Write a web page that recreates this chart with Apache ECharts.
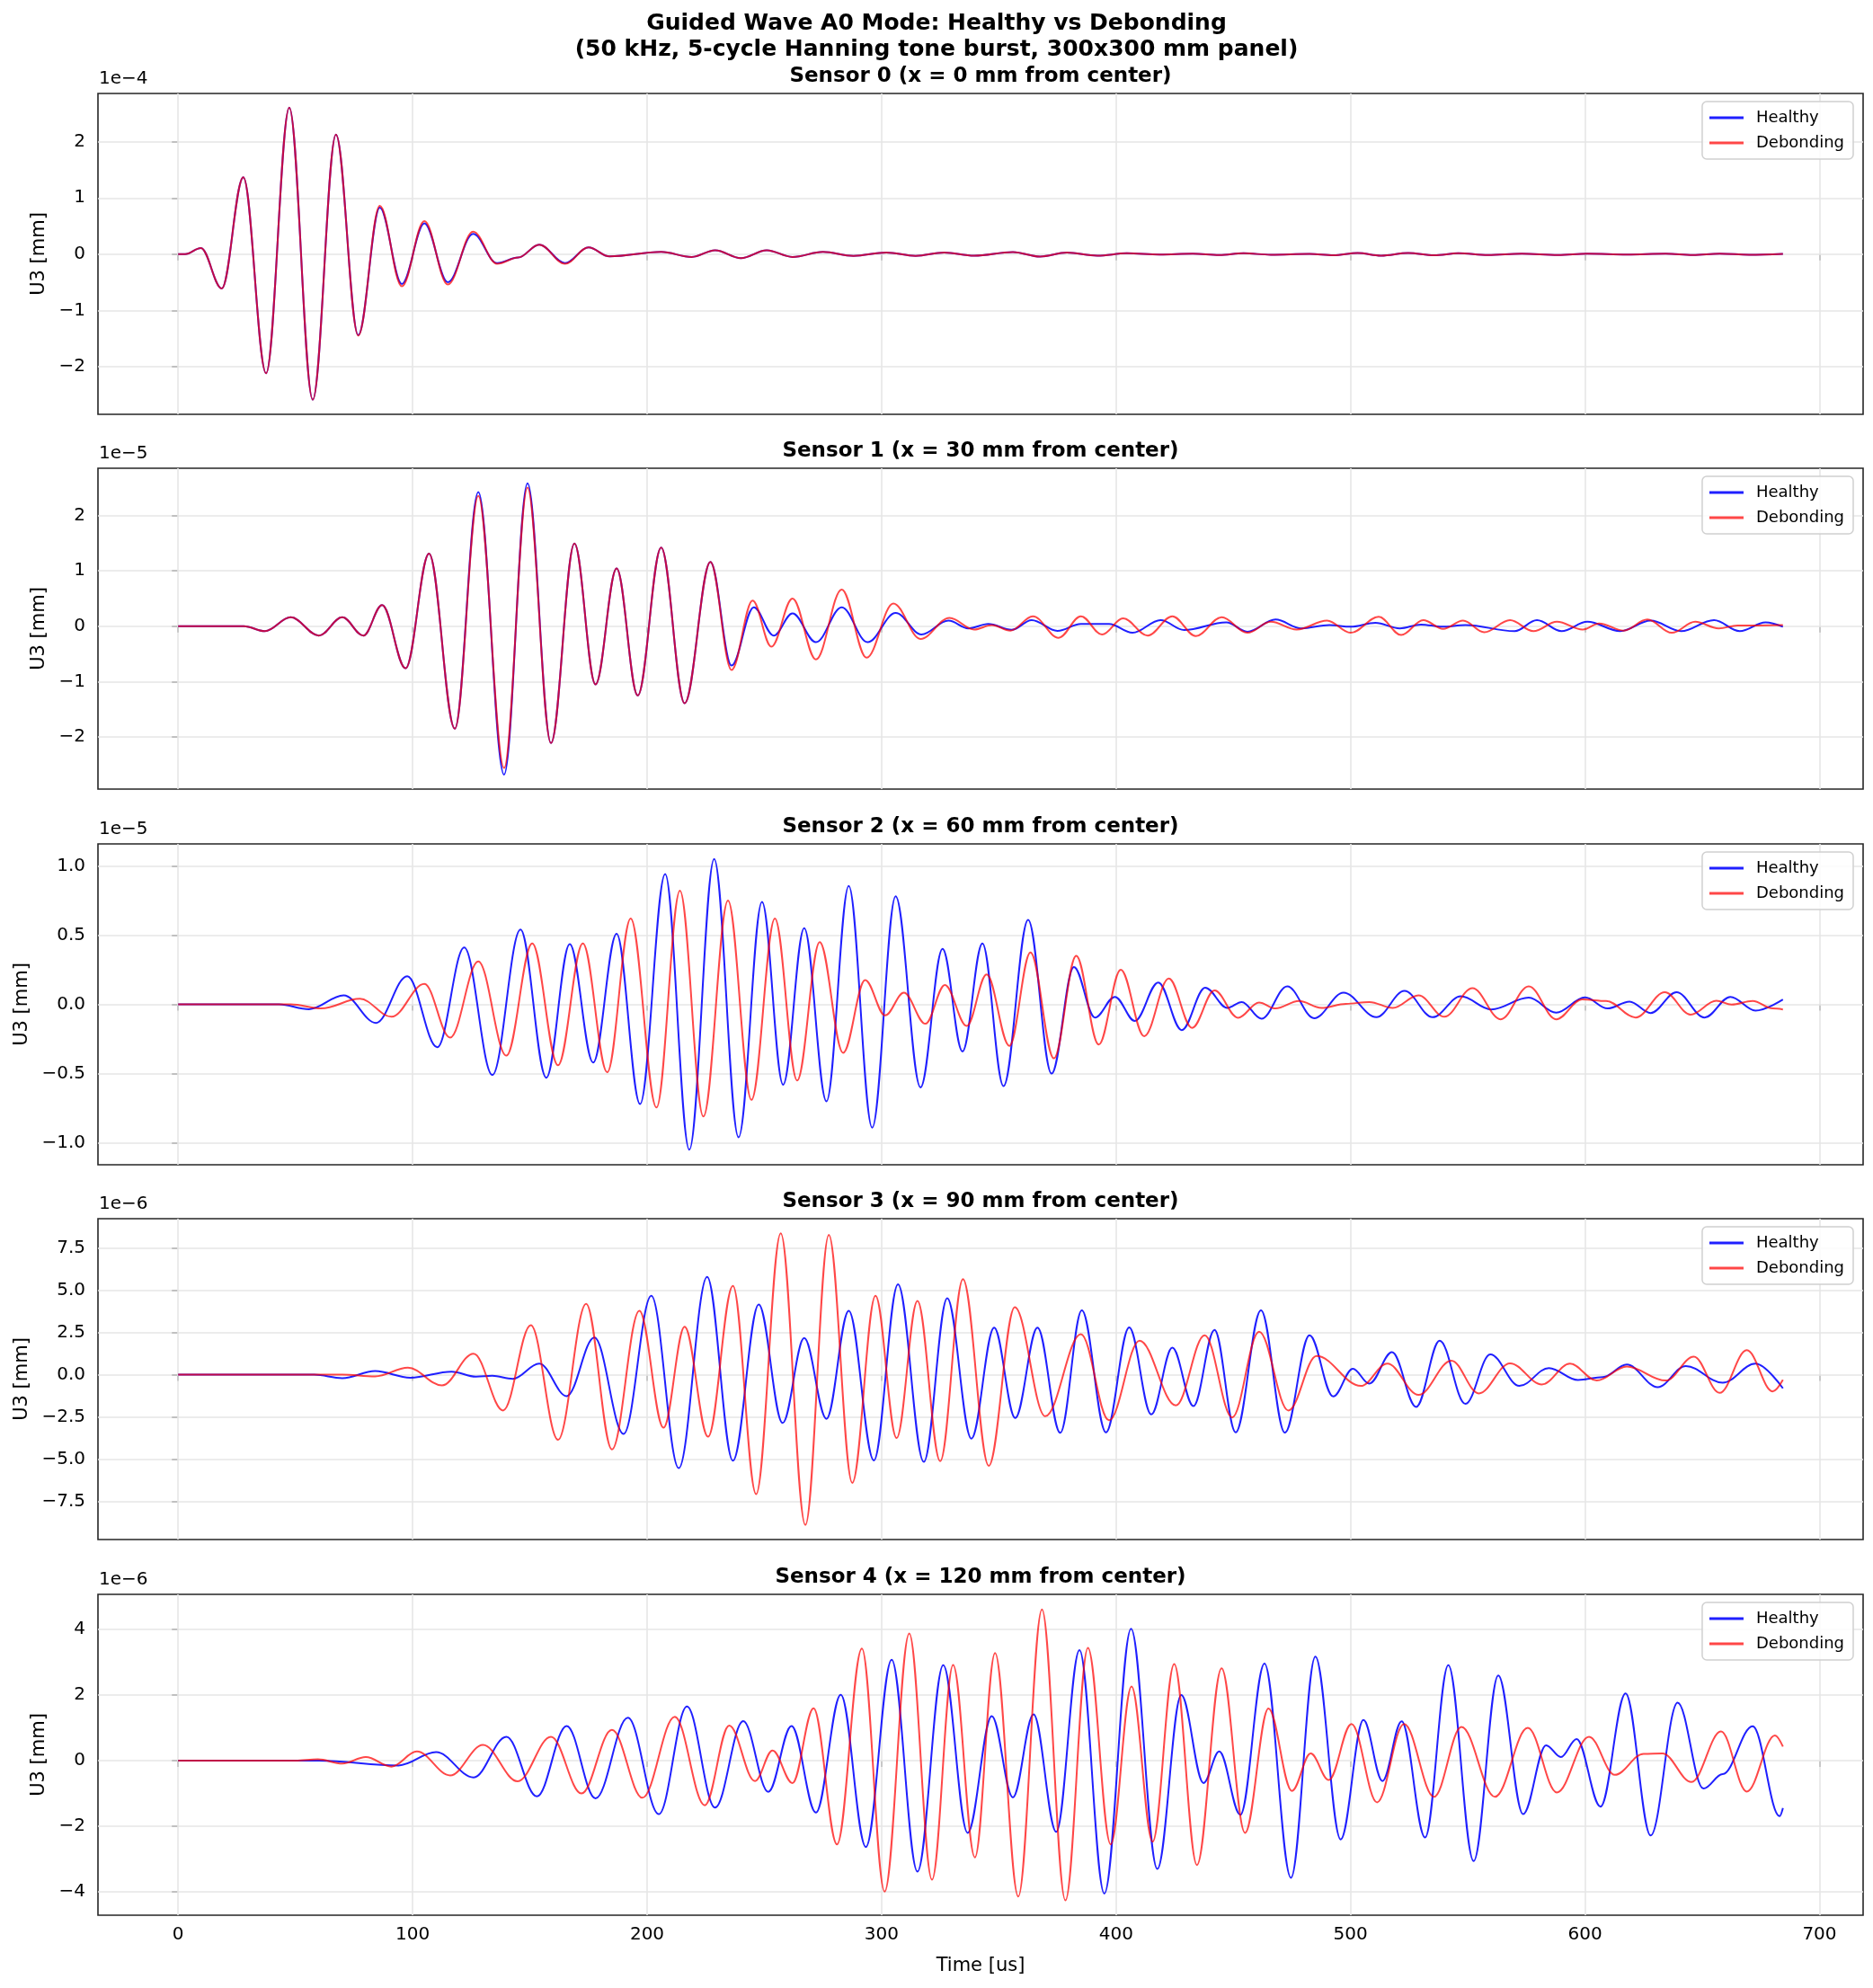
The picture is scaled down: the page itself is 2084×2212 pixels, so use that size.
<!DOCTYPE html>
<html>
<head>
<meta charset="utf-8">
<title>Guided Wave A0 Mode</title>
<script src="https://cdn.jsdelivr.net/npm/echarts@6/dist/echarts.min.js"></script>
<style>
  html, body { margin: 0; padding: 0; background: #fff; }
  #main { width: 2084px; height: 2212px; }
</style>
</head>
<body>
<div id="main"></div>
<script>
// time axis ticks [us]
var xTicks = [0, 100, 200, 300, 400, 500, 600, 700];

var panelTitles = [
    'Sensor 0 (x = 0 mm from center)',
    'Sensor 1 (x = 30 mm from center)',
    'Sensor 2 (x = 60 mm from center)',
    'Sensor 3 (x = 90 mm from center)',
    'Sensor 4 (x = 120 mm from center)'
];
var offsetLabels = ['1e\u22124', '1e\u22125', '1e\u22125', '1e\u22126', '1e\u22126'];

// y ranges / ticks (in units of the offset label)
var yMin = [-2.85, -2.94, -1.158, -9.75, -4.71];
var yMax = [2.86, 2.85, 1.158, 9.22, 5.07];
var yStep = [1, 1, 0.5, 2.5, 2];
var yTicks = [
    [-2, -1, 0, 1, 2],
    [-2, -1, 0, 1, 2],
    [-1, -0.5, 0, 0.5, 1],
    [-7.5, -5, -2.5, 0, 2.5, 5, 7.5],
    [-4, -2, 0, 2, 4]
];
var yDecimals = [0, 0, 1, 1, 0];

// peaks / troughs: [time us, U3]
var s0Healthy = [[0,0],[3,0],[9.7,0.11],[18.6,-0.61],[27.8,1.37],[37.5,-2.12],[47.4,2.61],[57.4,-2.59],[67.3,2.13],[76.8,-1.44],[86,0.83],[95.4,-0.53],[105,0.55],[115,-0.50],[125.8,0.36],[136,-0.16],[145,-0.06],[154,0.17],[165,-0.16],[175,0.12],[184,-0.04],[206,0.04],[219,-0.05],[229,0.07],[240,-0.07],[251,0.07],[262,-0.05],[275,0.04],[288,-0.03],[302,0.03],[314.5,-0.03],[326.7,0.03],[339.5,-0.027],[356,0.037],[367.6,-0.043],[379,0.027],[392,-0.027],[404.6,0.016],[418.6,-0.005],[432.7,0.01],[444,-0.016],[454.4,0.016],[466,-0.01],[482.5,0.005],[492.7,-0.02],[503,0.02],[513,-0.027],[524.6,0.02],[535.6,-0.02],[546,0.016],[558.6,-0.016],[573,0.01],[588.5,-0.016],[601,0.01],[618,-0.005],[634.4,0.01],[646,-0.016],[657.4,0.01],[670,-0.01],[684.4,0.005]];
var s0Debonding = [[0,0],[3,0],[9.7,0.11],[18.6,-0.61],[27.8,1.37],[37.5,-2.12],[47.4,2.61],[57.4,-2.59],[67.3,2.13],[76.8,-1.45],[86,0.86],[95.4,-0.57],[105,0.59],[115,-0.54],[125.8,0.40],[136,-0.17],[145,-0.06],[154,0.17],[165,-0.17],[175,0.12],[184,-0.04],[206,0.04],[219,-0.05],[229,0.07],[240,-0.07],[251,0.07],[262,-0.05],[275,0.04],[288,-0.03],[302,0.03],[314.5,-0.03],[326.7,0.03],[339.5,-0.027],[356,0.037],[367.6,-0.043],[379,0.027],[392,-0.027],[404.6,0.016],[418.6,-0.005],[432.7,0.01],[444,-0.016],[454.4,0.016],[466,-0.01],[482.5,0.005],[492.7,-0.02],[503,0.02],[513,-0.027],[524.6,0.02],[535.6,-0.02],[546,0.016],[558.6,-0.016],[573,0.01],[588.5,-0.016],[601,0.01],[618,-0.005],[634.4,0.01],[646,-0.016],[657.4,0.01],[670,-0.01],[684.4,0.005]];

var s1Healthy = [[0,0],[28,0],[37,-0.09],[48,0.16],[60,-0.17],[70,0.16],[79,-0.17],[87,0.38],[97,-0.76],[107,1.31],[118,-1.85],[128,2.42],[139,-2.68],[149,2.58],[159,-2.11],[169,1.49],[178,-1.05],[187,1.04],[196,-1.25],[206,1.42],[216,-1.39],[227,1.16],[236,-0.71],[245.5,0.34],[254,-0.17],[262,0.23],[272,-0.29],[283,0.34],[294,-0.29],[306,0.24],[317,-0.15],[328.5,0.10],[337,-0.04],[345.5,0.04],[355.5,-0.065],[364,0.11],[375,-0.085],[385,0.04],[397,0.04],[407,-0.12],[419,0.11],[429,-0.07],[447,0.07],[456,-0.10],[468,0.12],[479,-0.04],[491,0.02],[500,-0.01],[510.6,0.06],[521,-0.04],[530,0.03],[539,-0.01],[549,0.02],[570,-0.09],[579.5,0.11],[590,-0.09],[601,0.08],[615,-0.09],[628,0.10],[641,-0.09],[655,0.11],[666,-0.09],[677,0.07],[684.4,-0.01]];
var s1Debonding = [[0,0],[28,0],[37,-0.09],[48,0.16],[60,-0.17],[70,0.16],[79,-0.17],[87,0.38],[97,-0.76],[107,1.31],[118,-1.85],[128,2.35],[139,-2.56],[149,2.50],[159,-2.11],[169,1.49],[178,-1.05],[187,1.04],[196,-1.25],[206,1.42],[216,-1.39],[227,1.16],[236,-0.79],[245,0.46],[253,-0.37],[262,0.50],[272,-0.60],[283,0.66],[293.6,-0.57],[305,0.41],[316.6,-0.23],[329,0.15],[339.5,-0.06],[347,0.02],[355,-0.08],[364.5,0.18],[375.5,-0.21],[385,0.18],[394,-0.15],[403,0.14],[413.5,-0.17],[424,0.18],[434,-0.18],[445,0.16],[456,-0.12],[466,0.08],[477,-0.06],[490,0.10],[500,-0.12],[512,0.17],[521.6,-0.16],[531,0.11],[539.5,-0.05],[548,0.10],[557,-0.11],[568,0.11],[578,-0.09],[588,0.08],[599,-0.06],[606,0.05],[616.5,-0.08],[626.6,0.12],[637,-0.12],[647,0.08],[657,-0.04],[665,0.01],[684.4,0.02]];

var s2Healthy = [[0,0],[43,0],[55.8,-0.035],[70.6,0.065],[84.4,-0.134],[97.7,0.203],[110.5,-0.31],[122,0.41],[134,-0.51],[146,0.54],[157,-0.53],[167,0.435],[177,-0.42],[187,0.51],[197,-0.72],[207.7,0.94],[218,-1.05],[228.6,1.05],[239,-0.96],[249,0.74],[258,-0.58],[267,0.55],[276.5,-0.70],[286,0.855],[296,-0.89],[306,0.78],[316.6,-0.60],[326,0.40],[334.5,-0.34],[343,0.44],[352,-0.59],[362.5,0.61],[372.5,-0.50],[382,0.27],[391,-0.095],[399.5,0.054],[408,-0.12],[418,0.158],[428,-0.186],[438,0.12],[447.5,-0.026],[453.6,0.017],[462,-0.104],[473,0.13],[484.5,-0.10],[497,0.084],[511,-0.093],[523,0.097],[535,-0.093],[547,0.058],[560,-0.037],[576,0.048],[587.7,-0.06],[600,0.05],[609.6,-0.03],[619,0.02],[628,-0.063],[639,0.087],[651,-0.095],[662,0.054],[672.7,-0.045],[684.4,0.035]];
var s2Debonding = [[0,0],[48,0],[61,-0.03],[77.5,0.04],[91,-0.09],[105,0.147],[116,-0.24],[128,0.31],[140,-0.37],[151,0.44],[162,-0.44],[172.6,0.44],[183,-0.49],[193,0.62],[204,-0.745],[214,0.82],[224,-0.81],[234.5,0.75],[244.5,-0.69],[254.5,0.62],[264,-0.55],[273.6,0.45],[283.6,-0.35],[293,0.175],[301.5,-0.08],[309.5,0.084],[318.7,-0.14],[327,0.14],[336.3,-0.156],[344.8,0.215],[354.5,-0.30],[363.5,0.375],[373.5,-0.39],[383,0.35],[392.6,-0.29],[402,0.25],[412,-0.23],[422.5,0.186],[432.4,-0.17],[442,0.10],[452,-0.097],[461,0.013],[468,-0.03],[478,0.024],[487.6,-0.026],[498,0.004],[508,0.017],[518,-0.026],[529,0.065],[540,-0.09],[552,0.117],[564,-0.108],[576,0.13],[587.7,-0.108],[598.7,0.035],[609,0.024],[621.6,-0.095],[634,0.087],[645,-0.074],[656,0.026],[662.5,-0.002],[671.5,0.024],[680,-0.03],[684.4,-0.037]];

var s3Healthy = [[0,0],[58,0],[70,-0.21],[84,0.21],[99,-0.18],[116.6,0.18],[127,-0.12],[134,-0.07],[142.7,-0.25],[154,0.65],[165.7,-1.27],[177.5,2.19],[190,-3.5],[201.8,4.66],[213.5,-5.53],[225.6,5.78],[236.6,-5.09],[247.6,4.15],[257.8,-2.86],[267,2.16],[276.5,-2.61],[286,3.78],[296.7,-5.07],[307,5.34],[318,-5.16],[328,4.52],[338.3,-3.78],[348,2.78],[357,-2.56],[366.5,2.78],[376.2,-3.44],[385.4,3.80],[395.7,-3.41],[405.6,2.79],[415,-2.35],[424,1.59],[433,-1.86],[442,2.65],[451,-3.41],[461.8,3.80],[472,-3.43],[482.5,2.33],[492.6,-1.29],[501,0.35],[508,-0.53],[517.7,1.33],[528,-1.91],[538,2.01],[549,-1.73],[559.6,1.20],[572,-0.67],[584.6,0.39],[597,-0.32],[607.6,-0.14],[617.8,0.60],[631,-0.74],[643,0.51],[658.7,-0.48],[672.7,0.65],[684.4,-0.81]];
var s3Debonding = [[0,0],[70,0],[84,-0.1],[98,0.41],[112.5,-0.64],[126,1.24],[138.6,-2.12],[150.4,2.92],[162,-3.85],[174,4.19],[185,-4.42],[196.7,3.78],[207,-3.14],[216,2.83],[226,-3.67],[236.6,5.25],[246.5,-7.07],[257,8.36],[267.5,-8.89],[277.5,8.27],[287.5,-6.40],[297.4,4.66],[306.4,-3.75],[315.3,4.36],[325,-5.12],[334.7,5.65],[345.7,-5.39],[356.8,3.98],[369.8,-2.46],[385,2.39],[397,-2.70],[410,2.01],[425.5,-1.82],[437.8,2.33],[449.5,-2.53],[461,2.54],[473.5,-2.12],[485.5,1.10],[504.4,-0.67],[515.7,0.65],[529,-1.20],[543,0.83],[554.7,-1.11],[568,0.67],[581.6,-0.58],[593.6,0.65],[605,-0.35],[617.8,0.48],[634.4,-0.35],[646.4,1.06],[657.4,-1.08],[669,1.45],[680,-0.99],[684.4,-0.30]];

var s4Healthy = [[0,0],[60,0],[94,-0.146],[110,0.26],[126,-0.51],[140,0.73],[153,-1.09],[165.7,1.06],[178,-1.15],[191.8,1.31],[205,-1.63],[217,1.65],[229,-1.43],[241,1.21],[251.7,-0.95],[261.6,1.06],[272,-1.58],[282.6,2.01],[293.3,-2.63],[304.3,3.08],[315.3,-3.38],[326.3,2.91],[336.7,-2.20],[347,1.36],[356,-1.12],[364.8,1.41],[374.5,-2.17],[384.4,3.37],[395,-4.05],[406.4,4.02],[417.6,-3.30],[427.8,2.0],[437.3,-0.68],[444,0.28],[453,-1.65],[463.3,2.96],[474.6,-3.57],[485,3.17],[495.8,-2.40],[505.5,1.24],[513.6,-0.62],[521.8,1.20],[531.8,-2.34],[541.7,2.91],[552.5,-3.06],[563,2.60],[573.6,-1.63],[583.4,0.47],[589.7,0.11],[596.4,0.66],[606.6,-1.40],[617.3,2.05],[628,-2.28],[639.5,1.77],[650.5,-0.85],[658.7,-0.41],[671.5,1.05],[683,-1.69],[684.4,-1.44]];
var s4Debonding = [[0,0],[50,0],[59.6,0.04],[70,-0.09],[80,0.11],[91,-0.18],[101.8,0.28],[116,-0.45],[130,0.48],[144.8,-0.63],[159,0.73],[172,-1.00],[185,0.94],[198,-1.13],[211.8,1.34],[224.6,-1.36],[235,1.07],[246,-0.62],[253.5,0.31],[262,-0.68],[271,1.60],[281,-2.55],[291.6,3.42],[301.3,-3.99],[311.8,3.88],[321.5,-3.63],[330.5,2.92],[339.8,-2.95],[348.4,3.28],[358.3,-4.14],[368.4,4.61],[378.4,-4.26],[388,3.44],[397.7,-2.55],[406.6,2.26],[415.6,-2.47],[424.8,2.95],[434.5,-3.18],[445,2.82],[455,-2.20],[465,1.59],[475,-0.92],[483,0.22],[490.7,-0.59],[500.4,1.12],[511.3,-1.27],[522.8,1.12],[535.6,-1.10],[547.3,1.03],[561.6,-1.10],[575.6,1.0],[588,-0.97],[601.7,0.73],[612.7,-0.43],[625,0.21],[633,0.22],[645.4,-0.65],[658,0.89],[669,-0.94],[681,0.77],[684.4,0.43]];

var healthy = [s0Healthy, s1Healthy, s2Healthy, s3Healthy, s4Healthy];
var debonding = [s0Debonding, s1Debonding, s2Debonding, s3Debonding, s4Debonding];

// layout (px)
var gridTop = [104, 521, 939, 1356, 1774];
var gridHeight = 357;
var gridLeft = 109;
var gridRight = 11;
var yNameGap = [55, 55, 73, 73, 55];
var FONT = 'DejaVu Sans';
var GRID_COLOR = '#e6e6e6';

function textEl(x, y, text, font, align, vAlign) {
    return {
        type: 'text', x: x, y: y, silent: true,
        style: { text: text, font: font, fill: '#000',
                 align: align, verticalAlign: vAlign, textAlign: align, textVerticalAlign: vAlign }
    };
}

function isOnStep(v, step) {
    var k = v / step;
    return Math.abs(k - Math.round(k)) < 1e-6;
}

// tick label text, '' for anything that is not a tick value
function yFormatter(dec, step) {
    return function (v) {
        if (!isOnStep(v, step)) return '';
        var s = (Math.abs(v) < 1e-9 ? 0 : v).toFixed(dec);
        return s.replace('-', '\u2212');
    };
}
function xFormatter(v) {
    return isOnStep(v, 100) ? String(Math.round(v)) : '';
}

// extra = true adds z ordering and legend text spacing
function buildOption(extra) {
    var grids = [], xAxes = [], yAxes = [], series = [], legends = [], graphics = [];

    graphics.push(textEl(1042, 26, 'Guided Wave A0 Mode: Healthy vs Debonding', 'bold 25px "' + FONT + '"', 'center', 'middle'));
    graphics.push(textEl(1042, 55, '(50 kHz, 5-cycle Hanning tone burst, 300x300 mm panel)', 'bold 25px "' + FONT + '"', 'center', 'middle'));

    for (var i = 0; i < 5; i++) {
        var top = gridTop[i];
        var last = (i === 4);

        grids.push({
            left: gridLeft, right: gridRight, top: top, height: gridHeight,
            show: true, borderColor: '#262626', borderWidth: 1.6, backgroundColor: 'transparent'
        });

        xAxes.push({
            type: 'value', gridIndex: i,
            min: -34.2, max: 718.6, splitNumber: 7,
            axisLine: { show: false },
            axisTick: { show: true, length: 7, lineStyle: { color: '#262626', width: 1.6 }, customValues: xTicks },
            axisLabel: { show: last, customValues: xTicks, margin: 12, fontSize: 20, fontFamily: FONT, color: '#000',
                         formatter: xFormatter },
            splitLine: { show: false },
            name: last ? 'Time [us]' : '',
            nameLocation: 'middle', nameGap: 46,
            nameTextStyle: { fontSize: 21, fontFamily: FONT, color: '#000' }
        });

        yAxes.push({
            type: 'value', gridIndex: i,
            min: yMin[i], max: yMax[i], splitNumber: 6,
            axisLine: { show: false },
            axisTick: { show: true, length: 7, lineStyle: { color: '#262626', width: 1.6 }, customValues: yTicks[i] },
            axisLabel: { customValues: yTicks[i], margin: 14, fontSize: 20, fontFamily: FONT, color: '#000',
                         formatter: yFormatter(yDecimals[i], yStep[i]) },
            splitLine: { show: false },
            name: 'U3 [mm]', nameLocation: 'middle', nameGap: yNameGap[i],
            nameTextStyle: { fontSize: 21, fontFamily: FONT, color: '#000' }
        });

        // grid lines at the tick values
        var gridMarks = [];
        xTicks.forEach(function (v) { gridMarks.push({ xAxis: v }); });
        yTicks[i].forEach(function (v) { gridMarks.push({ yAxis: v }); });
        var markLine = {
            silent: true, symbol: ['none', 'none'], label: { show: false },
            lineStyle: { color: GRID_COLOR, width: 1.6, type: 'solid' },
            animation: false,
            data: gridMarks
        };
        if (extra) markLine.z = 1;
        series.push({
            type: 'line', name: 'grid' + i, xAxisIndex: i, yAxisIndex: i,
            data: [], showSymbol: false, symbol: 'none', silent: true, z: 1,
            markLine: markLine
        });

        series.push({
            type: 'line', name: 'Healthy', xAxisIndex: i, yAxisIndex: i,
            data: healthy[i], showSymbol: false, symbol: 'none',
            smooth: 0.36, smoothMonotone: 'x',
            lineStyle: { color: 'rgba(0,0,255,0.88)', width: 2 },
            itemStyle: { color: 'rgba(0,0,255,0.88)' },
            z: 2
        });
        series.push({
            type: 'line', name: 'Debonding', xAxisIndex: i, yAxisIndex: i,
            data: debonding[i], showSymbol: false, symbol: 'none',
            smooth: 0.36, smoothMonotone: 'x',
            lineStyle: { color: 'rgba(255,0,0,0.72)', width: 2 },
            itemStyle: { color: 'rgba(255,0,0,0.72)' },
            z: 3
        });

        var legend = {
            data: ['Healthy', 'Debonding'],
            orient: 'vertical', top: top + 9, right: 22,
            icon: 'rect', itemWidth: 38, itemHeight: 3, itemGap: 8,
            padding: [8, 10, 8, 8],
            backgroundColor: 'rgba(255,255,255,0.85)',
            borderColor: '#d0d0d0', borderWidth: 1.5, borderRadius: 5,
            selectedMode: false,
            textStyle: { fontSize: 18, fontFamily: FONT, color: '#000', lineHeight: 20 }
        };
        if (extra) {
            legend.z = 20;
            legend.formatter = '\u2002{name}';
        }
        legends.push(legend);

        graphics.push(textEl(1091, top - 19, panelTitles[i], 'bold 23px "' + FONT + '"', 'center', 'middle'));
        graphics.push(textEl(110, top - 6, offsetLabels[i], '20px "' + FONT + '"', 'left', 'bottom'));
    }

    return {
        animation: false,
        backgroundColor: '#fff',
        textStyle: { fontFamily: FONT },
        grid: grids,
        xAxis: xAxes,
        yAxis: yAxes,
        legend: legends,
        series: series,
        graphic: graphics
    };
}

var dom = document.getElementById('main');
var chart = echarts.init(dom);
try {
    chart.setOption(buildOption(true));
} catch (e) {
    chart.dispose();
    chart = echarts.init(dom);
    chart.setOption(buildOption(false));
}
</script>
</body>
</html>
